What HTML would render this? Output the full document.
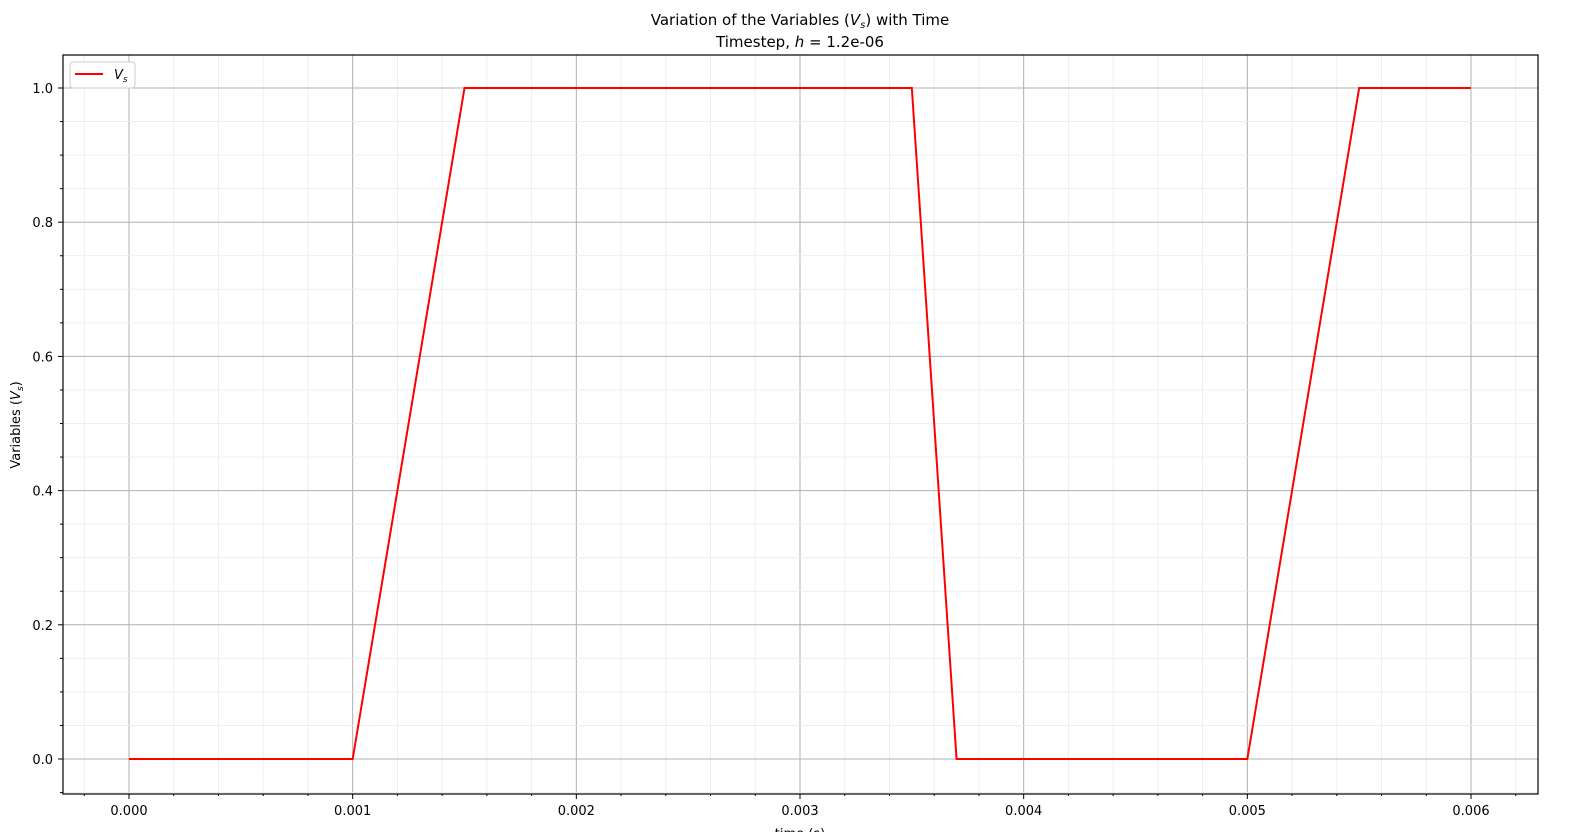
<!DOCTYPE html>
<html><head><meta charset="utf-8"><style>
body{margin:0;background:#fff}
svg{display:block;font-family:"DejaVu Sans","Liberation Sans",sans-serif}
</style></head><body>
<svg id="chart" width="1581" height="832" xmlns="http://www.w3.org/2000/svg">
<text x="800" y="25" text-anchor="middle" font-size="15">Variation of the Variables (<tspan font-style="italic">V</tspan><tspan font-style="italic" font-size="10" dy="3">s</tspan><tspan dy="-3">) with Time</tspan></text>
<text x="800" y="47" text-anchor="middle" font-size="15">Timestep, <tspan font-style="italic">h</tspan> = 1.2e-06</text>
<g id="grid"></g>
<g id="axes"></g>
<polyline id="series" fill="none" stroke="#ff0000" stroke-width="2"/>
<rect x="63" y="55" width="1475" height="739" fill="none" stroke="#000" stroke-width="1.2"/>
<g>
<rect x="70" y="62" width="65" height="26" rx="3" fill="#fff" stroke="#ccc"/>
<line x1="75" y1="74" x2="103" y2="74" stroke="#ff0000" stroke-width="2"/>
<text x="114" y="79" font-size="13" font-style="italic">V<tspan font-size="9" dy="3">s</tspan></text>
</g>
<text transform="translate(20,425) rotate(-90)" text-anchor="middle" font-size="13">Variables (<tspan font-style="italic">V</tspan><tspan font-style="italic" font-size="9" dy="3">s</tspan><tspan dy="-3">)</tspan></text>
<text x="800" y="838" text-anchor="middle" font-size="13">time (s)</text>
</svg>
<script>
const times=[0,0.001,0.0015,0.0035,0.0037,0.005,0.0055,0.006];
const values=[0,0,1,1,0,0,1,1];
const xTicks=["0.000","0.001","0.002","0.003","0.004","0.005","0.006"];
const yTicks=["0.0","0.2","0.4","0.6","0.8","1.0"];
const X=t=>129+(t/0.006)*(1471-129);
const Y=v=>759-v*(759-88);
const NS="http://www.w3.org/2000/svg";
const grid=document.getElementById('grid'),axes=document.getElementById('axes');
function mk(p,tag,a){const e=document.createElementNS(NS,tag);for(const k in a)e.setAttribute(k,a[k]);p.appendChild(e);return e;}
for(let i=-1;i<=31;i++){const t=i*0.0002;const x=X(t);if(x<63||x>1538)continue;
 const major=i%5===0;
 const l=mk(grid,'line',{x1:x,x2:x,y1:55,y2:794,stroke:major?'#b0b0b0':'#ebebeb','stroke-width':major?1:0.8});
 
 
 const tk=mk(axes,'line',{x1:x,x2:x,y1:794,y2:major?799:796,stroke:'#000'});
 
 }
for(let i=-1;i<=21;i++){const v=i*0.05;const y=Y(v);if(y<55||y>794)continue;
 const major=i%4===0;
 const l=mk(grid,'line',{x1:63,x2:1538,y1:y,y2:y,stroke:major?'#b0b0b0':'#ebebeb','stroke-width':major?1:0.8});
 
 
 const tk=mk(axes,'line',{x1:major?58:60,x2:63,y1:y,y2:y,stroke:'#000'});
 
 }
xTicks.forEach((s,i)=>{const t=mk(axes,'text',{x:X(i*0.001),y:815,'text-anchor':'middle','font-size':13});t.textContent=s;
 
 });
yTicks.forEach((s,i)=>{const t=mk(axes,'text',{x:53,y:Y(i*0.2)+5,'text-anchor':'end','font-size':13});t.textContent=s;
 
 });
document.getElementById('series').setAttribute('points',times.map((t,i)=>X(t)+','+Y(values[i])).join(' '));
</script>
</body></html>
